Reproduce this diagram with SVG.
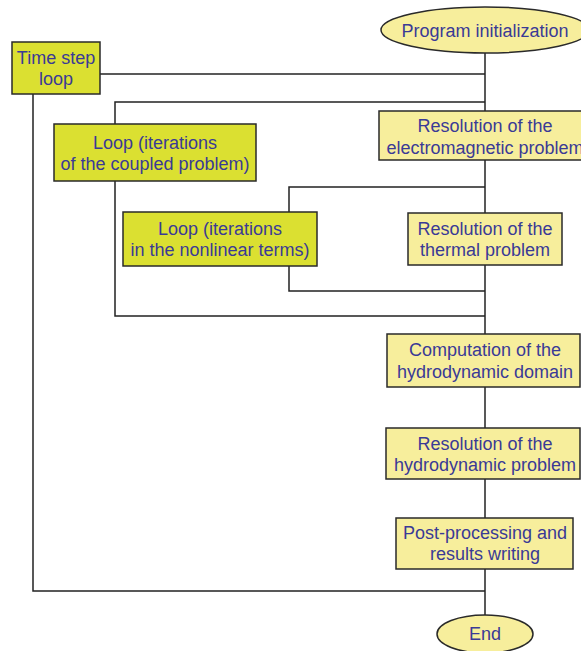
<svg xmlns="http://www.w3.org/2000/svg" width="581" height="651" viewBox="0 0 581 651">
<style>
.t{font-family:"Liberation Sans",Arial,sans-serif;font-size:18px;fill:#3a3a96;text-anchor:middle}
.box{fill:#f7ee9c;stroke:#2a2a2a;stroke-width:1.5}
.loop{fill:#dbe031;stroke:#2a2a2a;stroke-width:1.5}
.c{fill:none;stroke:#222;stroke-width:1.5}
</style>
<rect width="581" height="651" fill="#fff"/>
<g id="connectors">
<path class="c" d="M485 53V616"/>
<path class="c" d="M100 74H485"/>
<path class="c" d="M33 94V591H485"/>
<path class="c" d="M115 124V102H485"/>
<path class="c" d="M115 181V316H485"/>
<path class="c" d="M289 212V187H485"/>
<path class="c" d="M289 266V291H485"/>
</g>
<g id="program-init">
<ellipse class="box" cx="485" cy="30" rx="104" ry="23"/>
<text class="t" x="485" y="37">Program initialization</text>
</g>
<g id="time-step-loop">
<rect class="loop" x="12" y="42" width="88" height="52"/>
<text class="t" x="56" y="64">Time step</text>
<text class="t" x="56" y="85">loop</text>
</g>
<g id="loop-coupled">
<rect class="loop" x="54" y="124" width="202" height="57"/>
<text class="t" x="155" y="149">Loop (iterations</text>
<text class="t" x="155" y="170">of the coupled problem)</text>
</g>
<g id="res-em">
<rect class="box" x="379" y="111" width="212" height="49"/>
<text class="t" x="485" y="132">Resolution of the</text>
<text class="t" x="485" y="154">electromagnetic problem</text>
</g>
<g id="loop-nonlinear">
<rect class="loop" x="123" y="212" width="194" height="54"/>
<text class="t" x="220" y="235">Loop (iterations</text>
<text class="t" x="220" y="256">in the nonlinear terms)</text>
</g>
<g id="res-thermal">
<rect class="box" x="408" y="213" width="154" height="52"/>
<text class="t" x="485" y="235">Resolution of the</text>
<text class="t" x="485" y="256">thermal problem</text>
</g>
<g id="comp-hydro-domain">
<rect class="box" x="387" y="334" width="193" height="53"/>
<text class="t" x="485" y="356">Computation of the</text>
<text class="t" x="485" y="378">hydrodynamic domain</text>
</g>
<g id="res-hydro">
<rect class="box" x="386" y="428" width="194" height="51"/>
<text class="t" x="485" y="450">Resolution of the</text>
<text class="t" x="485" y="471">hydrodynamic problem</text>
</g>
<g id="post-processing">
<rect class="box" x="396" y="518" width="177" height="51"/>
<text class="t" x="485" y="539">Post-processing and</text>
<text class="t" x="485" y="560">results writing</text>
</g>
<g id="end">
<ellipse class="box" cx="485" cy="634" rx="48" ry="19"/>
<text class="t" x="485" y="640">End</text>
</g>
</svg>
